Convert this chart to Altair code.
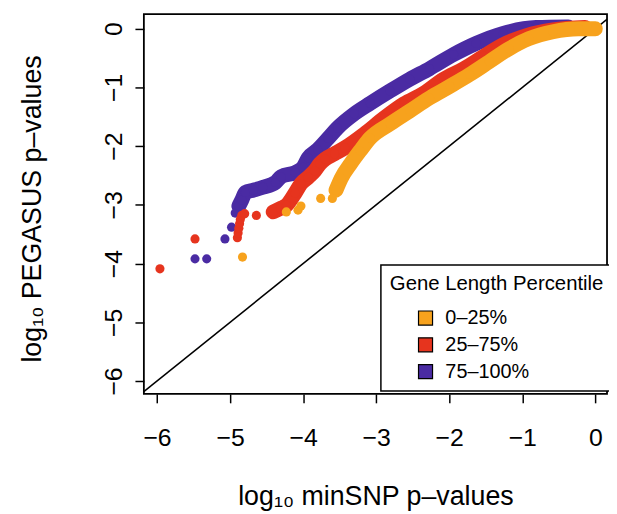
import altair as alt
import pandas as pd

groups = ["0–25%", "25–75%", "75–100%"]
colors = ["#F7A21D", "#E6341E", "#4A2BA3"]

# dense band (centre line) of each group
purple_band_x = [-4.88, -4.84, -4.79, -4.68, -4.55, -4.38, -4.30, -4.11, -4.00, -3.93, -3.80, -3.66, -3.53,
                 -3.30, -3.08, -2.81, -2.54, -2.27, -1.94, -1.63, -1.26, -0.81, -0.37]
purple_band_y = [-3.02, -2.92, -2.79, -2.75, -2.70, -2.62, -2.52, -2.45, -2.36, -2.20, -2.06, -1.87, -1.69,
                 -1.45, -1.27, -1.06, -0.86, -0.68, -0.44, -0.25, -0.08, 0.02, 0.03]
red_band_x = [-4.41, -4.31, -4.23, -4.11, -4.03, -3.93, -3.84, -3.77, -3.70, -3.57, -3.43, -3.16, -2.89,
              -2.62, -2.35, -2.08, -1.80, -1.53, -1.26, -0.95, -0.58, -0.14]
red_band_y = [-3.12, -3.06, -3.01, -2.80, -2.64, -2.53, -2.42, -2.30, -2.22, -2.13, -2.03, -1.79, -1.52,
              -1.28, -1.10, -0.86, -0.68, -0.47, -0.27, -0.12, -0.02, 0.02]
orange_band_x = [-3.55, -3.48, -3.35, -3.22, -3.08, -2.81, -2.54, -2.27, -1.99, -1.72, -1.45, -1.18, -0.91,
                 -0.58, -0.23, 0.00]
orange_band_y = [-2.75, -2.55, -2.30, -2.08, -1.86, -1.62, -1.40, -1.18, -0.98, -0.78, -0.56, -0.34, -0.17,
                 -0.05, 0.00, 0.00]

# sparse tail points of each group
purple_pts_x = [-5.48, -5.32, -5.07, -4.98, -4.93]
purple_pts_y = [-3.92, -3.92, -3.58, -3.38, -3.14]
red_pts_x = [-5.96, -5.48, -4.90, -4.89, -4.88, -4.87, -4.86, -4.84, -4.80, -4.64]
red_pts_y = [-4.09, -3.58, -3.56, -3.48, -3.40, -3.32, -3.25, -3.18, -3.15, -3.18]
orange_pts_x = [-4.83, -4.23, -4.07, -4.03, -3.76, -3.60]
orange_pts_y = [-3.89, -3.12, -3.09, -3.02, -2.89, -2.89]

tick_values = [-6, -5, -4, -3, -2, -1, 0]
ref_x = [-7, 1]
ref_y = [-7, 1]

FONT = "Liberation Sans"
xdom = [-6.18, 0.16]
ydom = [-6.22, 0.25]

xsc = alt.Scale(domain=xdom, nice=False, zero=False)
ysc = alt.Scale(domain=ydom, nice=False, zero=False)
csc = alt.Scale(domain=groups, range=colors)

xax = alt.Axis(values=tick_values, format="d", title="log₁₀ minSNP p–values",
               tickSize=9, tickWidth=1.5, tickColor="black", labelFontSize=25, labelColor="black",
               labelPadding=23, labelFont=FONT, titleFont=FONT, titleFontSize=27,
               titleFontWeight="normal", titleColor="black", titleBaseline="middle", titleY=104,
               domain=False, grid=False, labelFlush=False)
yax = alt.Axis(values=tick_values, format="d", title="log₁₀ PEGASUS p–values",
               tickSize=9, tickWidth=1.5, tickColor="black", labelFontSize=25, labelColor="black",
               labelAngle=270, labelAlign="center", labelBaseline="bottom", labelPadding=9,
               labelFont=FONT, titleFont=FONT, titleFontSize=27, titleFontWeight="normal",
               titleColor="black", titleBaseline="middle", titleX=-112, titleY=196,
               domain=False, grid=False, labelFlush=False)

legend = alt.Legend(title="Gene Length Percentile", orient="none", legendX=239, legendY=253,
                    direction="vertical", fillColor="white", strokeColor="black", padding=9,
                    titleFont=FONT, titleFontSize=20.5, titleFontWeight="normal", titleColor="black",
                    titleLimit=400, labelLimit=300,
                    titlePadding=14, labelFont=FONT, labelFontSize=20, labelColor="black",
                    symbolType="square", symbolSize=200, symbolStrokeColor="black",
                    symbolStrokeWidth=1.2, symbolOffset=26, rowPadding=7, labelOffset=10)

ref = pd.DataFrame({"x": ref_x, "y": ref_y})
diag = alt.Chart(ref).mark_line(color="black", strokeWidth=1.6, clip=True).encode(
    x=alt.X("x:Q", scale=xsc, axis=xax), y=alt.Y("y:Q", scale=ysc, axis=yax))

series = [
    (groups[2], purple_band_x, purple_band_y, purple_pts_x, purple_pts_y, colors[2]),
    (groups[1], red_band_x, red_band_y, red_pts_x, red_pts_y, colors[1]),
    (groups[0], orange_band_x, orange_band_y, orange_pts_x, orange_pts_y, colors[0]),
]

layers = [diag]
for g, bx, by, px, py, col in series:
    band = pd.DataFrame({"x": bx, "y": by, "g": g})
    pts = pd.DataFrame({"x": px + bx, "y": py + by, "g": g})
    layers.append(alt.Chart(band).mark_line(color=col, strokeWidth=15, strokeCap="round",
                                             strokeJoin="round", interpolate="monotone").encode(
        x=alt.X("x:Q", scale=xsc), y=alt.Y("y:Q", scale=ysc)))
    layers.append(alt.Chart(pts).mark_circle(size=85, opacity=1).encode(
        x=alt.X("x:Q", scale=xsc), y=alt.Y("y:Q", scale=ysc),
        color=alt.Color("g:N", scale=csc, legend=legend)))

chart = alt.layer(*layers).properties(
    width=467, height=383, autosize="none",
    padding={"left": 137, "top": 4, "right": 2, "bottom": 119},
).configure_view(stroke="black", strokeWidth=1.8).configure_legend(strokeWidth=1.5)

chart.save("out.html", embed_options={"renderer": "svg", "actions": False})
